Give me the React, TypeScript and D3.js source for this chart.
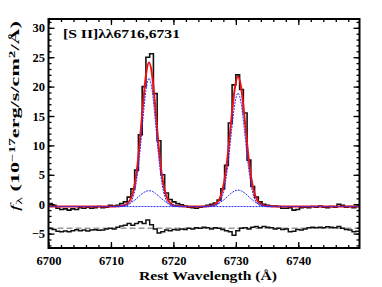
import React, { useRef, useEffect } from 'react';
import * as d3 from 'd3';

// observed spectrum, binned: bin i spans binStart + i*binWidth .. + binWidth
const binStart = 6700;
const binWidth = 0.6;
const observedFlux = [
    0.1, -0.2, -0.7, -0.9, -0.8, -1.0, -0.8, -0.9, -0.6, -0.7,
    -0.5, -0.7, -0.6, -0.4, -0.6, -0.5, -0.2, -0.3, -0.2, 0.1,
    0.4, 1.2, 2.6, 5.8, 11.8, 20.0, 25.0, 25.6, 18.8, 10.8,
    5.0, 1.9, 0.8, 0.4, 0.1, -0.1, -0.3, -0.5, -0.6, -0.7,
    -0.5, -0.4, -0.2, 0.0, 0.2, 0.7, 2.6, 6.6, 13.8, 20.3,
    22.0, 19.5, 15.5, 7.5, 3.0, 1.2, 0.4, 0.0, -0.2, -0.3,
    -0.3, -0.4, -0.7, -0.7, -0.6, -1.0, -0.9, -0.6, -0.5, -0.6,
    -0.4, -0.5, -0.3, -0.5, -0.6, -0.4, -0.5, 0.0, -0.2, -0.5,
    -0.4, -0.6, -0.4,
];
// residuals (shifted down, drawn around residualZero)
const residualFlux = [
    -4.15, -4.3, -4.6, -4.7, -4.55, -4.7, -4.5, -4.35, -4.5, -4.4,
    -4.55, -4.4, -4.35, -4.45, -4.4, -4.2, -4.1, -4.2, -3.9, -3.7,
    -3.6, -3.3, -3.6, -3.3, -3.0, -3.3, -2.7, -3.5, -4.2, -4.9,
    -4.7, -4.4, -4.5, -4.3, -4.4, -4.2, -4.3, -4.1, -4.2, -4.0,
    -4.1, -3.9, -4.0, -4.2, -4.0, -4.1, -4.3, -4.5, -4.7, -5.3,
    -4.5, -4.1, -4.0, -4.2, -3.9, -3.8, -4.0, -3.8, -3.9, -4.0,
    -4.2, -4.1, -4.3, -4.2, -4.7, -4.6, -4.3, -4.4, -4.2, -4.0,
    -3.9, -4.0, -3.9, -4.0, -3.85, -3.9, -4.0, -3.8, -4.1, -4.3,
    -4.4, -4.7, -4.6,
];
const residualZero = -4.1;
const continuumLevel = -0.4;

// model profiles sampled at lineCenter + profileOffsets
const lineCenters = [6716.1, 6730.35];
const profileOffsets = [
    -5.5, -5, -4.5, -4, -3.5, -3, -2.5, -2, -1.5, -1, -0.5, 0,
    0.5, 1, 1.5, 2, 2.5, 3, 3.5, 4, 4.5, 5, 5.5,
];
const fitTotal1 = [-0.39, -0.36, -0.32, -0.19, 0.09, 0.77, 2.33, 5.38, 10.32, 16.5, 21.92, 24.1, 21.92, 16.5, 10.32, 5.38, 2.33, 0.77, 0.09, -0.19, -0.32, -0.36, -0.39];
const fitTotal2 = [-0.39, -0.36, -0.31, -0.17, 0.13, 0.83, 2.37, 5.25, 9.74, 15.17, 19.84, 21.7, 19.84, 15.17, 9.74, 5.25, 2.37, 0.83, 0.13, -0.17, -0.31, -0.36, -0.39];
const narrow1 = [-0.4, -0.4, -0.4, -0.36, -0.23, 0.2, 1.41, 4.03, 8.49, 14.23, 19.33, 21.4, 19.33, 14.23, 8.49, 4.03, 1.41, 0.2, -0.23, -0.36, -0.4, -0.4, -0.4];
const narrow2 = [-0.4, -0.4, -0.39, -0.35, -0.21, 0.24, 1.42, 3.85, 7.84, 12.82, 17.16, 18.9, 17.16, 12.82, 7.84, 3.85, 1.42, 0.24, -0.21, -0.35, -0.39, -0.4, -0.4];
const broad1 = [-0.39, -0.36, -0.32, -0.23, -0.08, 0.17, 0.52, 0.95, 1.43, 1.87, 2.19, 2.3, 2.19, 1.87, 1.43, 0.95, 0.52, 0.17, -0.08, -0.23, -0.32, -0.36, -0.39];
const broad2 = [-0.39, -0.36, -0.32, -0.22, -0.06, 0.19, 0.55, 1.0, 1.5, 1.95, 2.28, 2.4, 2.28, 1.95, 1.5, 1.0, 0.55, 0.19, -0.06, -0.22, -0.32, -0.36, -0.39];

const xDomain: [number, number] = [6700, 6749.8];
const yDomain: [number, number] = [-7.45, 31.5];
const xTicks = [6700, 6710, 6720, 6730, 6740];
const yTicks = [-5, 0, 5, 10, 15, 20, 25, 30];

const width = 382;
const height = 287;
const serif = '"Liberation Serif", "Times New Roman", serif';

const App: React.FC = () => {
    const svgRef = useRef<SVGSVGElement | null>(null);

    useEffect(() => {
        const svg = d3.select(svgRef.current);
        svg.selectAll('*').remove();

        const left = 48.5, right = 359.5, top = 19, bottom = 248;
        const x = d3.scaleLinear().domain(xDomain).range([left, right]);
        const y = d3.scaleLinear().domain(yDomain).range([bottom, top]);

        svg.append('defs').append('clipPath').attr('id', 'plot-clip')
            .append('rect')
            .attr('x', left).attr('y', top)
            .attr('width', right - left).attr('height', bottom - top);

        const g = svg.append('g').attr('clip-path', 'url(#plot-clip)');

        // step histograms from bin edges
        const stepPoints = (vals: number[]) => {
            const pts: [number, number][] = vals.map((v, i) => [binStart + i * binWidth, v]);
            pts.push([binStart + vals.length * binWidth, vals[vals.length - 1]]);
            return pts;
        };
        const step = d3.line<[number, number]>()
            .x(d => x(d[0]))
            .y(d => y(d[1]))
            .curve(d3.curveStepAfter);
        const smooth = d3.line<[number, number]>()
            .x(d => x(d[0]))
            .y(d => y(d[1]))
            .curve(d3.curveMonotoneX);

        const profile = (center: number, vals: number[]) =>
            vals.map((v, i) => [center + profileOffsets[i], v] as [number, number]);

        // residual zero line + residuals
        g.append('path')
            .datum([[xDomain[0], residualZero], [xDomain[1], residualZero]] as [number, number][])
            .attr('d', smooth)
            .attr('fill', 'none')
            .attr('stroke', '#9a9a9a')
            .attr('stroke-width', 1.5)
            .attr('stroke-dasharray', '6,3');
        g.append('path')
            .datum(stepPoints(residualFlux))
            .attr('d', step)
            .attr('fill', 'none')
            .attr('stroke', '#111')
            .attr('stroke-width', 1.5);

        // observed spectrum
        g.append('path')
            .datum(stepPoints(observedFlux))
            .attr('d', step)
            .attr('fill', 'none')
            .attr('stroke', '#111')
            .attr('stroke-width', 1.6);

        // total fit
        const fitPts: [number, number][] = [
            [xDomain[0], continuumLevel],
            ...profile(lineCenters[0], fitTotal1),
            ...profile(lineCenters[1], fitTotal2),
            [xDomain[1], continuumLevel],
        ];
        g.append('path')
            .datum(fitPts)
            .attr('d', smooth)
            .attr('fill', 'none')
            .attr('stroke', '#ee1111')
            .attr('stroke-width', 2);

        // components
        const blue = '#2a2aff';
        g.append('path')
            .datum([[xDomain[0], continuumLevel], [xDomain[1], continuumLevel]] as [number, number][])
            .attr('d', smooth)
            .attr('fill', 'none')
            .attr('stroke', blue)
            .attr('stroke-width', 1)
            .attr('stroke-dasharray', '2,1');
        [
            profile(lineCenters[0], narrow1),
            profile(lineCenters[0], broad1),
            profile(lineCenters[1], narrow2),
            profile(lineCenters[1], broad2),
        ].forEach(pts => {
            g.append('path')
                .datum(pts)
                .attr('d', smooth)
                .attr('fill', 'none')
                .attr('stroke', blue)
                .attr('stroke-width', 1)
                .attr('stroke-dasharray', '2,1');
        });

        // axes, ticks inward on all sides
        const xMinor = d3.range(6700, 6750, 2);
        const yMinor = d3.range(-7, 32, 1);
        const styleAxis = (sel: d3.Selection<SVGGElement, unknown, null, undefined>) => {
            sel.select('.domain').remove();
            sel.selectAll('line').attr('stroke', '#000').attr('stroke-width', 1.3);
            sel.selectAll('text')
                .attr('fill', '#000')
                .style('font-family', serif)
                .style('font-weight', 'bold')
                .style('font-size', '12.5px');
        };

        const axes = svg.append('g');
        axes.append('g').attr('transform', `translate(0,${bottom})`)
            .call(d3.axisBottom(x).tickValues(xMinor).tickSize(-3).tickFormat(() => ''))
            .call(styleAxis);
        axes.append('g').attr('transform', `translate(0,${bottom})`)
            .call(d3.axisBottom(x).tickValues(xTicks).tickSize(-6).tickPadding(8.2).tickFormat(d3.format('d')))
            .call(styleAxis);
        axes.append('g').attr('transform', `translate(0,${top})`)
            .call(d3.axisTop(x).tickValues(xMinor).tickSize(-3).tickFormat(() => ''))
            .call(styleAxis);
        axes.append('g').attr('transform', `translate(0,${top})`)
            .call(d3.axisTop(x).tickValues(xTicks).tickSize(-6).tickFormat(() => ''))
            .call(styleAxis);
        axes.append('g').attr('transform', `translate(${left},0)`)
            .call(d3.axisLeft(y).tickValues(yMinor).tickSize(-3).tickFormat(() => ''))
            .call(styleAxis);
        axes.append('g').attr('transform', `translate(${left},0)`)
            .call(d3.axisLeft(y).tickValues(yTicks).tickSize(-6).tickPadding(3.5).tickFormat(d3.format('d')))
            .call(styleAxis);
        axes.append('g').attr('transform', `translate(${right},0)`)
            .call(d3.axisRight(y).tickValues(yMinor).tickSize(-3).tickFormat(() => ''))
            .call(styleAxis);
        axes.append('g').attr('transform', `translate(${right},0)`)
            .call(d3.axisRight(y).tickValues(yTicks).tickSize(-6).tickFormat(() => ''))
            .call(styleAxis);

        // frame
        svg.append('rect')
            .attr('x', left).attr('y', top)
            .attr('width', right - left).attr('height', bottom - top)
            .attr('fill', 'none')
            .attr('stroke', '#000')
            .attr('stroke-width', 2);

        // annotation
        svg.append('text')
            .attr('x', 63)
            .attr('y', 38)
            .attr('textLength', 117)
            .attr('lengthAdjust', 'spacingAndGlyphs')
            .style('font-family', serif)
            .style('font-weight', 'bold')
            .style('font-size', '12px')
            .text('[S II]λλ6716,6731');

        // x label
        svg.append('text')
            .attr('x', (left + right) / 2 + 4)
            .attr('y', 280)
            .attr('text-anchor', 'middle')
            .attr('textLength', 138)
            .attr('lengthAdjust', 'spacingAndGlyphs')
            .style('font-family', serif)
            .style('font-weight', 'bold')
            .style('font-size', '12.5px')
            .text('Rest Wavelength (Å)');

        // y label
        const yl = svg.append('text')
            .attr('transform', `translate(19,116) rotate(-90)`)
            .attr('text-anchor', 'middle')
            .attr('textLength', 190)
            .attr('lengthAdjust', 'spacingAndGlyphs')
            .style('font-family', serif)
            .style('font-weight', 'bold')
            .style('font-size', '12.5px');
        yl.append('tspan').style('font-style', 'italic').style('font-weight', 'normal').text('f');
        yl.append('tspan').attr('dy', 3).style('font-size', '9px').style('font-weight', 'normal').text('λ');
        yl.append('tspan').attr('dy', -3).text(' (10');
        yl.append('tspan').attr('dy', -4.5).style('font-size', '8.5px').text('−17');
        yl.append('tspan').attr('dy', 4.5).text('erg/s/cm');
        yl.append('tspan').attr('dy', -4.5).style('font-size', '8.5px').text('2');
        yl.append('tspan').attr('dy', 4.5).text('/Å)');
    }, []);

    return (
        <svg
            ref={svgRef}
            width={width}
            height={height}
            style={{ position: 'absolute', left: 0, top: 0, background: '#fff' }}
        />
    );
};

export default App;
